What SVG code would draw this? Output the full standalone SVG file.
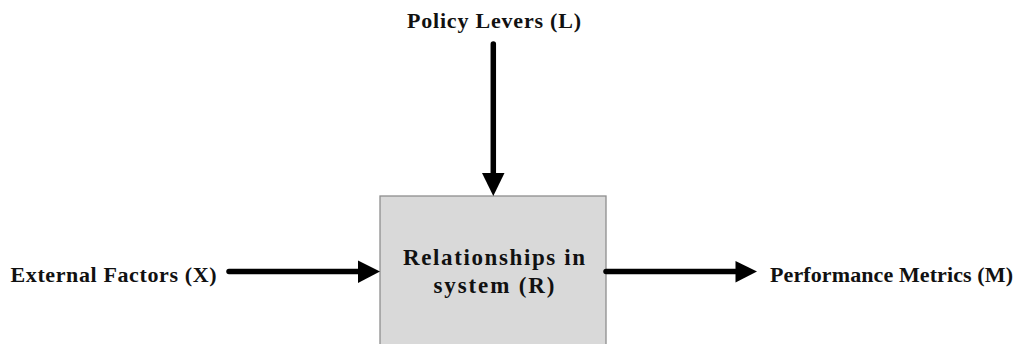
<svg xmlns="http://www.w3.org/2000/svg" width="1031" height="344" viewBox="0 0 1031 344">
  <style>
    .lbl { font-family: "Liberation Serif", "Times New Roman", serif; font-weight: bold; font-size: 22px; fill: #111; }
    .box-lbl { font-family: "Liberation Serif", "Times New Roman", serif; font-weight: bold; font-size: 23px; fill: #111; text-anchor: middle; }
    .shaft { stroke: #000; stroke-width: 5.5; stroke-linecap: round; fill: none; }
    .head { fill: #000; }
    .box { fill: #d9d9d9; stroke: #8e8e8e; stroke-width: 1.3; }
  </style>

  <rect width="1031" height="344" fill="#ffffff"/>

  <!-- central system box (runs off the bottom edge) -->
  <g id="node-system">
    <rect class="box" x="380" y="196" width="226" height="160"/>
    <text class="box-lbl" x="494" y="265" textLength="182" lengthAdjust="spacing">Relationships in</text>
    <text class="box-lbl" x="494" y="293" textLength="121" lengthAdjust="spacing">system (R)</text>
  </g>

  <g id="node-levers">
    <text class="lbl" x="407" y="28" textLength="174" lengthAdjust="spacing">Policy Levers (L)</text>
  </g>

  <g id="node-external">
    <text class="lbl" x="10.5" y="281.5" textLength="206" lengthAdjust="spacing">External Factors (X)</text>
  </g>

  <g id="node-metrics">
    <text class="lbl" x="770" y="282" textLength="243" lengthAdjust="spacing">Performance Metrics (M)</text>
  </g>

  <!-- connectors -->
  <g id="connectors">
    <!-- levers down into the system -->
    <line class="shaft" x1="493.3" y1="44" x2="493.3" y2="176"/>
    <polygon class="head" points="482,173 504.5,173 493.3,196"/>

    <!-- external factors into the system -->
    <line class="shaft" x1="229" y1="271.5" x2="360" y2="271.5"/>
    <polygon class="head" points="358,260.5 358,283 380,271.5"/>

    <!-- system out to performance metrics -->
    <line class="shaft" x1="606" y1="271.5" x2="738" y2="271.5"/>
    <polygon class="head" points="735.5,261 735.5,282.5 757,271.5"/>
  </g>
</svg>
